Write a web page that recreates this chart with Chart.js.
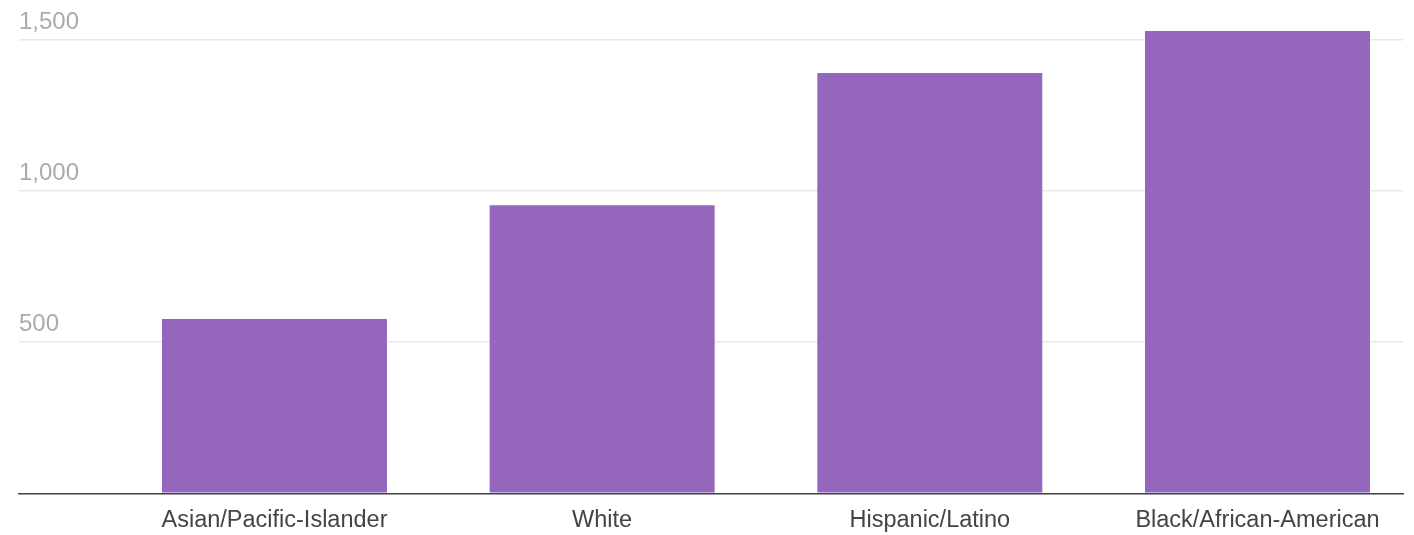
<!DOCTYPE html>
<html>
<head>
<meta charset="utf-8">
<script src="https://cdn.jsdelivr.net/npm/chart.js@4.4.1/dist/chart.umd.min.js"></script>
<style>
  html, body { margin: 0; padding: 0; background: #ffffff; }
  #wrap { width: 1414px; height: 535px; position: relative; }
</style>
</head>
<body>
<div id="wrap"><canvas id="chart"></canvas></div>
<script>
// Groups shown along the horizontal axis
const categories = ['Asian/Pacific-Islander', 'White', 'Hispanic/Latino', 'Black/African-American'];
// Value for each group
const values = [577, 953, 1391, 1530];
// Vertical axis labels
const yTickValues = [500, 1000, 1500];

const barColor = '#9467bd';

// Bars sit on a numeric x axis (one unit per group) so the groups can be placed freely
const points = categories.map((_, i) => ({ x: i, y: values[i] }));

new Chart(document.getElementById('chart'), {
  type: 'bar',
  data: {
    datasets: [{
      data: points,
      backgroundColor: barColor,
      borderWidth: 0,
      barPercentage: 0.6866,
      categoryPercentage: 1.0
    }]
  },
  options: {
    responsive: true,
    maintainAspectRatio: false,
    animation: false,
    layout: { padding: { left: 19, right: 11, top: 0, bottom: -12.5 } },
    plugins: {
      legend: { display: false },
      tooltip: { enabled: false }
    },
    scales: {
      x: {
        type: 'linear',
        offset: false,
        min: -0.7797,
        max: 3.4441,
        afterBuildTicks: (axis) => { axis.ticks = categories.map((_, i) => ({ value: i })); },
        grid: { display: false, drawTicks: false },
        border: { display: true, color: '#444444', width: 1.5 },
        ticks: {
          autoSkip: false,
          maxRotation: 0,
          padding: 13,
          color: '#444444',
          font: { family: 'Liberation Sans, Arial, sans-serif', size: 23.5 },
          callback: (v) => categories[v] ?? ''
        }
      },
      y: {
        min: 0,
        max: 1585,
        afterBuildTicks: (axis) => { axis.ticks = [0, ...yTickValues].map(v => ({ value: v })); },
        grid: { color: '#e8e8e8', lineWidth: 1.5, drawTicks: false },
        border: { display: false },
        ticks: {
          mirror: true,
          padding: 0,
          labelOffset: -18,
          color: '#ababab',
          font: { family: 'Liberation Sans, Arial, sans-serif', size: 24 },
          callback: (v) => v === 0 ? '' : v.toLocaleString('en-US')
        }
      }
    }
  }
});
</script>
</body>
</html>
